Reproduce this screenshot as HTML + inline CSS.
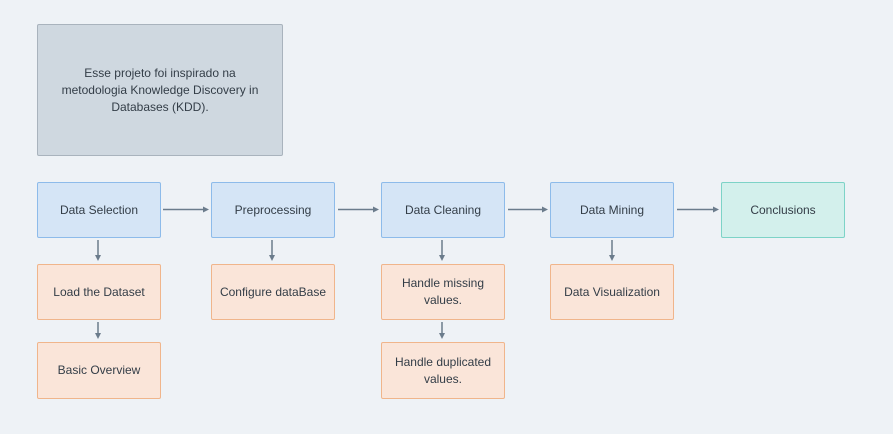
<!DOCTYPE html>
<html><head><meta charset="utf-8"><style>
body{margin:0;width:893px;height:434px;background:#eef2f6;position:relative;overflow:hidden;font-family:"Liberation Sans",sans-serif;}
.b{position:absolute;box-sizing:border-box;border:1.5px solid;border-radius:2px;display:flex;align-items:center;justify-content:center;text-align:center;font-size:12px;color:#333d47;line-height:17px;}
.bl{background:#d5e5f6;border-color:#8dbbea}
.or{background:#fae5d9;border-color:#f0b58b}
.gr{background:#d3f0ec;border-color:#7dd3c7}
.no{background:#cfd8e0;border-color:#a9b3bd}
svg{position:absolute;left:0;top:0}
</style></head><body>
<div class="b no" style="left:37px;top:24px;width:246px;height:132px;">Esse projeto foi inspirado na<br>metodologia Knowledge Discovery in<br>Databases (KDD).</div>
<div class="b bl" style="left:37px;top:182px;width:124px;height:56px;">Data Selection</div>
<div class="b bl" style="left:211px;top:182px;width:124px;height:56px;">Preprocessing</div>
<div class="b bl" style="left:381px;top:182px;width:124px;height:56px;">Data Cleaning</div>
<div class="b bl" style="left:550px;top:182px;width:124px;height:56px;">Data Mining</div>
<div class="b gr" style="left:721px;top:182px;width:124px;height:56px;">Conclusions</div>
<div class="b or" style="left:37px;top:264px;width:124px;height:56px;">Load the Dataset</div>
<div class="b or" style="left:211px;top:264px;width:124px;height:56px;">Configure dataBase</div>
<div class="b or" style="left:381px;top:264px;width:124px;height:56px;">Handle missing<br>values.</div>
<div class="b or" style="left:550px;top:264px;width:124px;height:56px;">Data Visualization</div>
<div class="b or" style="left:37px;top:342px;width:124px;height:57px;">Basic Overview</div>
<div class="b or" style="left:381px;top:342px;width:124px;height:57px;">Handle duplicated<br>values.</div>
<svg width="893" height="434"><g stroke="#6b7c8c" stroke-width="1.5" fill="#6b7c8c">
<line x1="163" y1="209.5" x2="204" y2="209.5"/><path d="M209 209.5l-6-3v6z" stroke="none"/>
<line x1="338" y1="209.5" x2="374" y2="209.5"/><path d="M379 209.5l-6-3v6z" stroke="none"/>
<line x1="508" y1="209.5" x2="543" y2="209.5"/><path d="M548 209.5l-6-3v6z" stroke="none"/>
<line x1="677" y1="209.5" x2="714" y2="209.5"/><path d="M719 209.5l-6-3v6z" stroke="none"/>
<line x1="98" y1="240" x2="98" y2="256"/><path d="M98 261l-3-6h6z" stroke="none"/>
<line x1="98" y1="322" x2="98" y2="334"/><path d="M98 339l-3-6h6z" stroke="none"/>
<line x1="272" y1="240" x2="272" y2="256"/><path d="M272 261l-3-6h6z" stroke="none"/>
<line x1="442" y1="240" x2="442" y2="256"/><path d="M442 261l-3-6h6z" stroke="none"/>
<line x1="442" y1="322" x2="442" y2="334"/><path d="M442 339l-3-6h6z" stroke="none"/>
<line x1="612" y1="240" x2="612" y2="256"/><path d="M612 261l-3-6h6z" stroke="none"/>
</g></svg>
</body></html>
